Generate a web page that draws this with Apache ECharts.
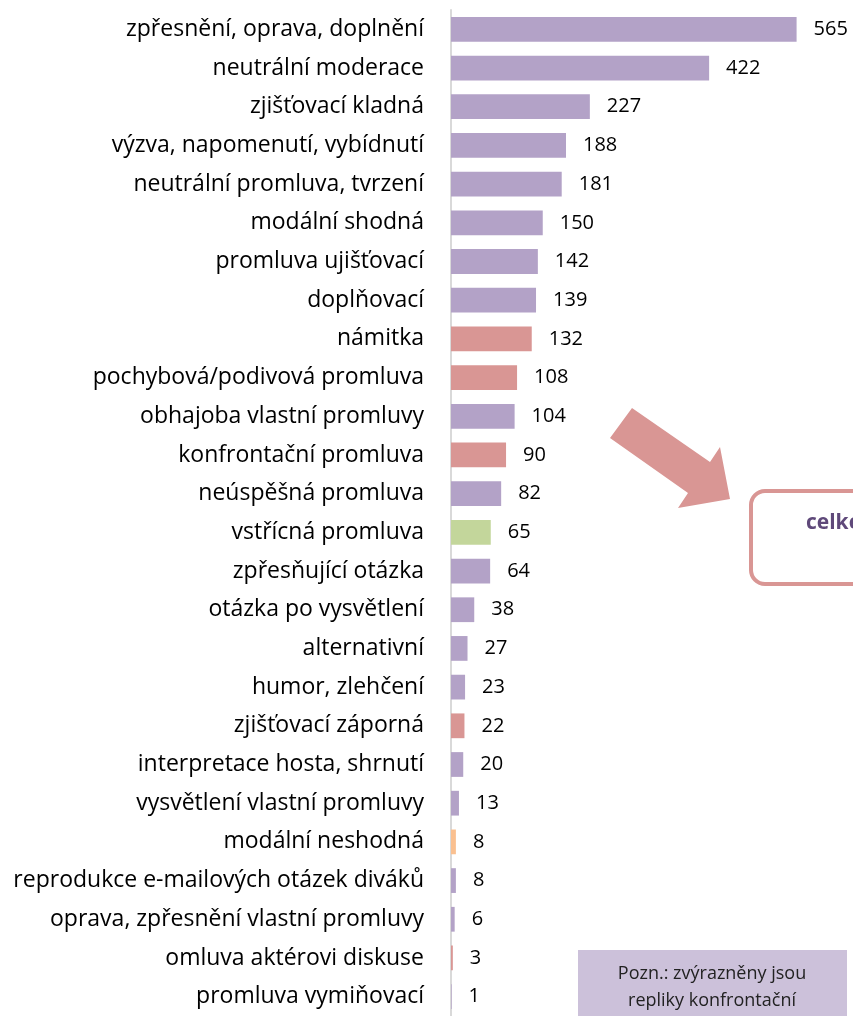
<!DOCTYPE html>
<html>
<head>
<meta charset="utf-8">
<script src="https://cdn.jsdelivr.net/npm/echarts@6/dist/echarts.min.js"></script>
<style>
  html, body { margin: 0; padding: 0; background: #fff; }
  #main { width: 853px; height: 1016px; }
</style>
</head>
<body>
<div id="main"></div>
<script>
// kategorie replik (shora dolů)
var categories = [
  'zpřesnění, oprava, doplnění', 'neutrální moderace', 'zjišťovací kladná',
  'výzva, napomenutí, vybídnutí', 'neutrální promluva, tvrzení', 'modální shodná',
  'promluva ujišťovací', 'doplňovací', 'námitka', 'pochybová/podivová promluva',
  'obhajoba vlastní promluvy', 'konfrontační promluva', 'neúspěšná promluva',
  'vstřícná promluva', 'zpřesňující otázka', 'otázka po vysvětlení', 'alternativní',
  'humor, zlehčení', 'zjišťovací záporná', 'interpretace hosta, shrnutí',
  'vysvětlení vlastní promluvy', 'modální neshodná', 'reprodukce e-mailových otázek diváků',
  'oprava, zpřesnění vlastní promluvy', 'omluva aktérovi diskuse', 'promluva vymiňovací'
];
var values = [565, 422, 227, 188, 181, 150, 142, 139, 132, 108, 104, 90, 82, 65, 64, 38, 27, 23, 22, 20, 13, 8, 8, 6, 3, 1];
// typ repliky: n = běžná, k = konfrontační, v = vstřícná, m = modální neshodná
var kinds = ['n','n','n','n','n','n','n','n','k','k','n','k','n','v','n','n','n','n','k','n','n','m','n','n','k','n'];

var colors = { n: '#b3a2c7', k: '#d99694', v: '#c3d69b', m: '#fac090' };

var chart = echarts.init(document.getElementById('main'));
var option = {
  animation: false,
  grid: { left: 451, top: 10, width: 367, height: 1015 },
  xAxis: {
    type: 'value', min: 0, max: 600, show: false
  },
  yAxis: {
    type: 'category',
    data: categories,
    inverse: true,
    axisLine: { show: true, lineStyle: { color: '#d9d9d9', width: 2 } },
    axisTick: { show: false },
    axisLabel: { margin: 27, fontSize: 23, color: '#000', fontFamily: 'Open Sans' }
  },
  series: [{
    type: 'bar',
    barWidth: '64%',
    data: values.map(function (v, i) {
      return { value: v, itemStyle: { color: colors[kinds[i]] } };
    }),
    label: {
      show: true, position: 'right', distance: 17,
      fontSize: 20, color: '#000', fontFamily: 'Open Sans'
    }
  }],
  graphic: [
    {
      type: 'polygon',
      shape: { points: [[610, 438], [632, 408], [710, 462], [720, 447], [730, 499], [678, 508], [688, 493]] },
      style: { fill: '#d99694' }
    },
    {
      type: 'rect',
      shape: { x: 751, y: 491, width: 140, height: 93, r: 14 },
      style: { fill: '#fff', stroke: '#d99694', lineWidth: 4 }
    },
    {
      type: 'text', x: 806, y: 523,
      style: { text: 'celkem', fill: '#5f497a', font: 'bold 21px "Open Sans"', verticalAlign: 'middle' }
    },
    {
      type: 'rect',
      shape: { x: 578, y: 950, width: 269, height: 80 },
      style: { fill: '#ccc1da' }
    },
    {
      type: 'text', x: 712, y: 987,
      style: {
        text: 'Pozn.: zvýrazněny jsou\nrepliky konfrontační',
        fill: '#222', font: '18px "Open Sans"', align: 'center', verticalAlign: 'middle', lineHeight: 27
      }
    }
  ]
};
chart.setOption(option);
</script>
</body>
</html>
